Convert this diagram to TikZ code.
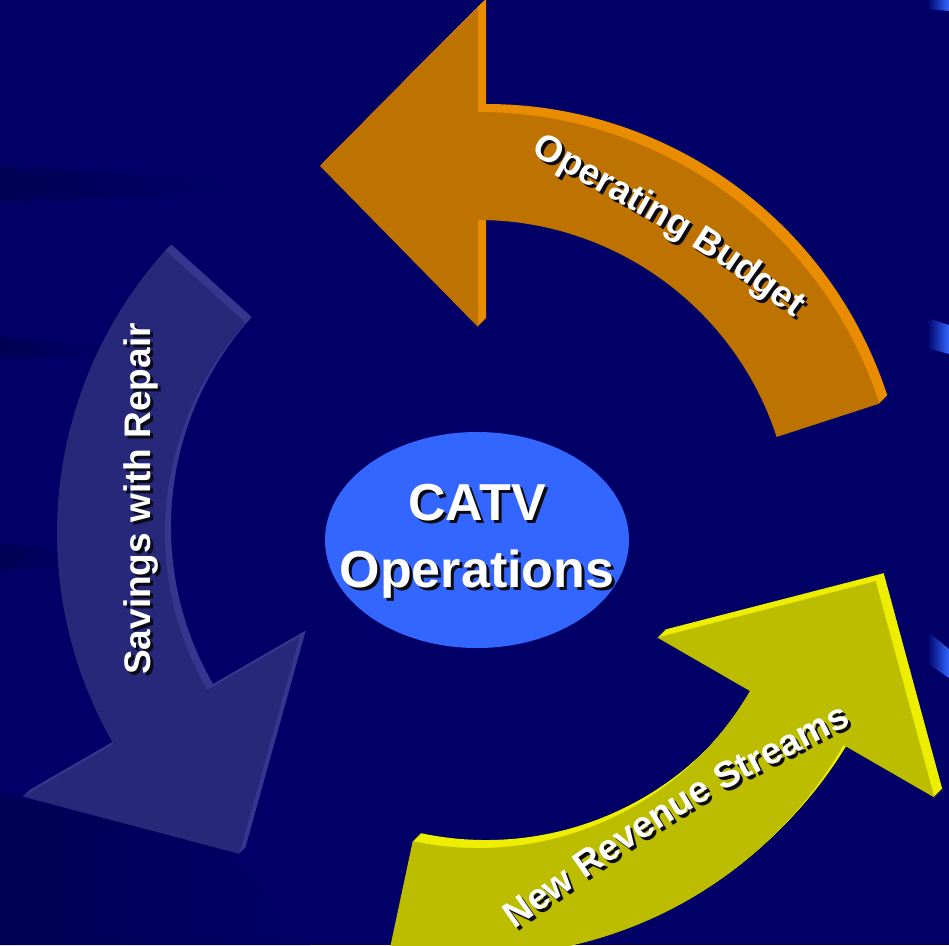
\documentclass[tikz,border=0pt]{standalone}
\usepackage{fontspec}
\setmainfont{Liberation Sans}
\usetikzlibrary{decorations.text,shapes.geometric}
\definecolor{bg}{RGB}{0,0,102}
\definecolor{bgdark}{RGB}{0,0,86}
\definecolor{ellfill}{RGB}{51,102,255}
\definecolor{orface}{RGB}{190,114,0}
\definecolor{orbevel}{RGB}{234,140,0}
\definecolor{yeface}{RGB}{189,189,0}
\definecolor{yebevel}{RGB}{238,238,0}
\definecolor{blface}{RGB}{40,40,122}
\definecolor{blbevel}{RGB}{54,54,142}
\definecolor{beam}{RGB}{51,102,255}
\definecolor{shadowc}{RGB}{10,10,20}
% arrow outline around centre (482,530); #1 = screen angle of the head
\newcommand{\arrowshape}[1]{%
  ({482+422*cos(#1+72)},{530+422*sin(#1+72)}) arc[start angle={#1+72}, end angle={#1}, radius=422]
  -- ({482+527*cos(#1)},{530+527*sin(#1)})
  -- ({482+368*cos(#1)+158*sin(#1)},{530+368*sin(#1)-158*cos(#1)})
  -- ({482+207*cos(#1)},{530+207*sin(#1)})
  -- ({482+314*cos(#1)},{530+314*sin(#1)})
  arc[start angle={#1}, end angle={#1+72}, radius=314] -- cycle}
\newcommand{\lblw}{\fontsize{37}{40}\selectfont\bfseries\color{white}}
\newcommand{\lblk}{\fontsize{37}{40}\selectfont\bfseries\color{shadowc}}
\newcommand{\bigfont}{\fontsize{52}{60}\selectfont\bfseries}
\begin{document}
\begin{tikzpicture}[x=1pt,y=-1pt,
  bigtext/.style={anchor=base, font=\bigfont, inner sep=0pt},
  lbltext/.style={anchor=base, font=\fontsize{37}{40}\selectfont\bfseries, inner sep=0pt, rotate=90}]
\fill[bg] (0,0) rectangle (949,945);
\useasboundingbox (0,0) rectangle (949,945);
% faint dark streaks on the left
\shade[left color=bgdark, right color=bg] (0,166) -- (240,181) -- (240,192) -- (0,202) -- cycle;
\shade[left color=bgdark, right color=bg] (0,337) -- (110,346) -- (110,355) -- (0,359) -- cycle;
\shade[left color=bgdark, right color=bg] (0,543) -- (100,553) -- (100,563) -- (0,571) -- cycle;
\shade[left color=bgdark, right color=bg] (0,792) -- (230,850) -- (310,945) -- (0,945) -- cycle;
% light beams at the right edge
\shade[left color=bg, right color=beam] (927,0) -- (949,0) -- (949,11) -- (927,9) -- cycle;
\shade[left color=bg, right color=beam] (927,318) -- (949,325) -- (949,354) -- (927,348) -- cycle;
\shade[left color=bg, right color=beam] (927,631) -- (949,649) -- (949,678) -- (927,663) -- cycle;
% orange arrow
\foreach \k in {4,3,...,-3} {\fill[orbevel, shift={(\k,-\k)}] \arrowshape{-90};}
\fill[orface, shift={(-4,4)}] \arrowshape{-90};
% yellow arrow
\foreach \k in {4,3,...,-3} {\fill[yebevel, shift={(\k,-\k)}] \arrowshape{30};}
\fill[yeface, shift={(-4,4)}] \arrowshape{30};
% blue arrow
\foreach \k in {3,2,...,-2} {\fill[blbevel, shift={(\k,-\k)}] \arrowshape{150};}
\fill[blface, shift={(-3,3)}] \arrowshape{150};
% centre ellipse
\node (catv) [ellipse, fill=ellfill, minimum width=304pt, minimum height=216pt, inner sep=0pt] at (477,540) {};
\node (l1s) [bigtext, text=shadowc] at (480,523) {CATV};
\node (l1) [bigtext, text=white] at (477,520) {CATV};
\node (l2s) [bigtext, text=shadowc] at (480,590) {Operations};
\node (l2) [bigtext, text=white] at (477,587) {Operations};
% labels on the arrows
\path[decorate, decoration={text along path, text={|\lblk|Operating Budget}, text align=center, raise=-13pt}]
  (525,137) .. controls (709,239) .. (819,321);
\path[decorate, decoration={text along path, text={|\lblw|Operating Budget}, text align=center, raise=-13pt}]
  (522,134) .. controls (706,236) .. (816,318);
\path[decorate, decoration={text along path, text={|\lblk|New Revenue Streams}, text align=center, raise=-13pt}]
  (501,928) .. controls (679,802) .. (858,711);
\path[decorate, decoration={text along path, text={|\lblw|New Revenue Streams}, text align=center, raise=-13pt}]
  (498,925) .. controls (676,799) .. (855,708);
\node (savs) [lbltext, text=shadowc] at (153,502) {Savings with Repair};
\node (sav) [lbltext, text=white] at (150,499) {Savings with Repair};
\end{tikzpicture}
\end{document}
